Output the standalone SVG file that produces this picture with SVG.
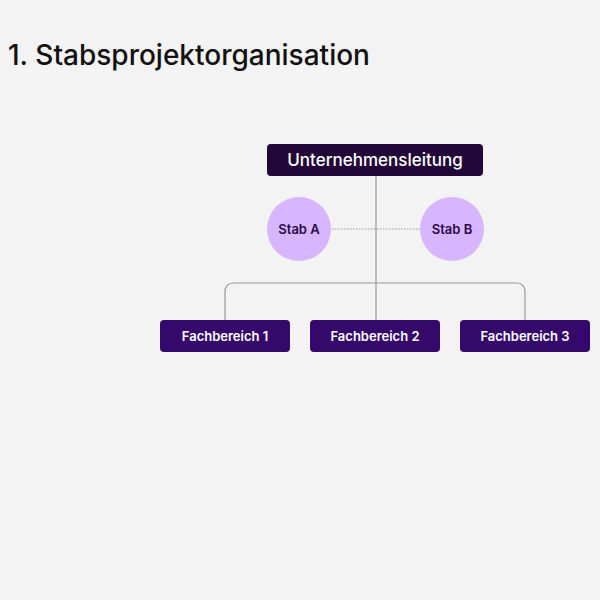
<svg xmlns="http://www.w3.org/2000/svg" width="600" height="600" viewBox="0 0 600 600">
<style>
.t{font-family:Inter,"Liberation Sans",sans-serif}
.box{fill:#35096b}
.lbl{fill:#fff;font-size:13px;font-weight:600;text-anchor:middle}
.circ{fill:#d8b6ff}
.clbl{fill:#2a0a4a;font-size:13px;font-weight:600;text-anchor:middle}
.ln{fill:none;stroke:#999;stroke-width:1.2}
</style>
<rect width="600" height="600" fill="#f3f3f3"/>
<text class="t" x="8" y="65" font-size="28" font-weight="500" fill="#111">1. Stabsprojektorganisation</text>
<g id="connectors">
<path class="ln" d="M376 176V320"/>
<path class="ln" d="M225 320V291a8 8 0 0 1 8-8H517a8 8 0 0 1 8 8V320"/>
<path class="ln" d="M332 229H420" stroke-dasharray="1.5 1.5"/>
</g>
<g id="top"><rect class="box" x="267" y="144" width="216" height="32" rx="4" fill="#220839" style="fill:#220839"/><text class="t lbl" x="375" y="166" font-size="17" style="font-size:17px;font-weight:500">Unternehmensleitung</text></g>
<g id="stabA"><circle class="circ" cx="299" cy="229" r="32"/><text class="t clbl" x="299" y="234">Stab A</text></g>
<g id="stabB"><circle class="circ" cx="452" cy="229" r="32"/><text class="t clbl" x="452" y="234">Stab B</text></g>
<g id="fb1"><rect class="box" x="160" y="320" width="130" height="32" rx="4"/><text class="t lbl" x="225" y="341">Fachbereich 1</text></g>
<g id="fb2"><rect class="box" x="310" y="320" width="130" height="32" rx="4"/><text class="t lbl" x="375" y="341">Fachbereich 2</text></g>
<g id="fb3"><rect class="box" x="460" y="320" width="130" height="32" rx="4"/><text class="t lbl" x="525" y="341">Fachbereich 3</text></g>
</svg>
